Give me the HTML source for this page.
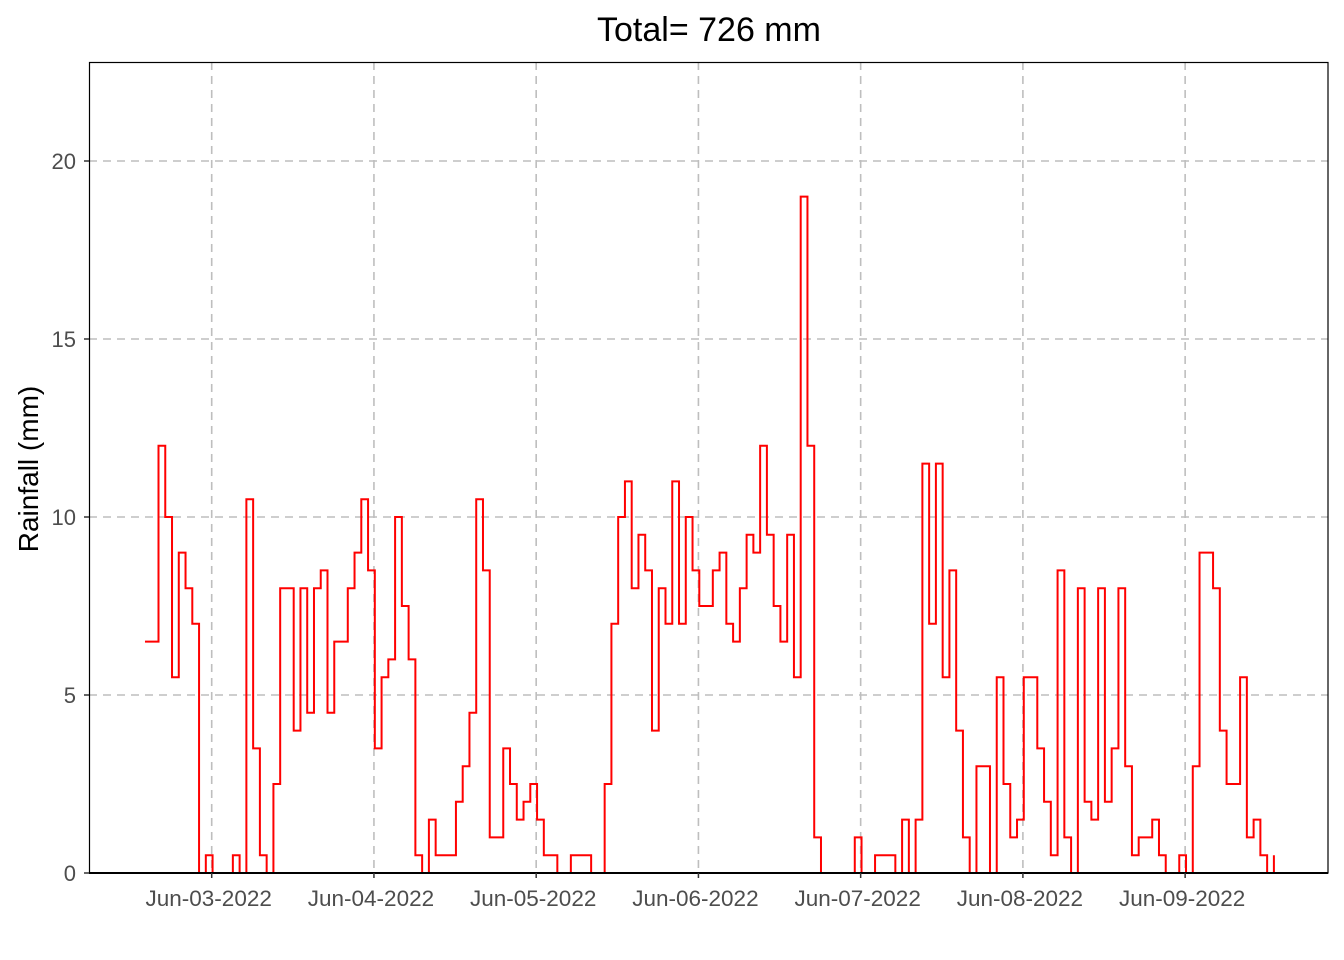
<!DOCTYPE html>
<html><head><meta charset="utf-8"><style>
body{margin:0;background:#fff;}
svg{display:block;font-family:"Liberation Sans",Arial,sans-serif;}
</style></head><body>
<svg id="chart" width="1344" height="960" viewBox="0 0 1344 960">
<rect width="1344" height="960" fill="#fff"/>
<g id="grid"></g>
<g id="series"></g>
<rect x="89.5" y="62.5" width="1238.5" height="810.5" fill="none" stroke="#000" stroke-width="1.2"/>
<line x1="89" y1="873" x2="1328" y2="873" stroke="#000" stroke-width="2"/>
<g id="yaxis"></g>
<g id="xaxis"></g>
<text x="709" y="41" text-anchor="middle" font-size="34" fill="#000">Total= 726 mm</text>
<text transform="translate(38,469) rotate(-90)" text-anchor="middle" font-size="28" fill="#000">Rainfall (mm)</text>
</svg>
<script>
const rainfall = [
6.5,6.5,12,10,5.5,9,8,7,0,0.5,0,0,0,0.5,0,10.5,3.5,0.5,0,2.5,8,8,4,8,4.5,8,8.5,4.5,
6.5,6.5,
8,9,10.5,8.5,3.5,5.5,6,10,7.5,6,0.5,0,1.5,0.5,0.5,0.5,2,3,4.5,10.5,8.5,1,1,3.5,2.5,1.5,2,
2.5,1.5,0.5,0.5,0,0,0.5,0.5,0.5,0,0,2.5,7,10,11,8,9.5,8.5,4,8,7,11,7,10,8.5,7.5,7.5,8.5,
9,7,6.5,8,9.5,9,12,9.5,7.5,6.5,9.5,5.5,19,12,1,0,0,0,0,0,1,0,0,0.5,0.5,0.5,0,1.5,
0,1.5,11.5,7,11.5,5.5,8.5,4,1,0,3,3,0,5.5,2.5,1,1.5,5.5,5.5,3.5,2,0.5,8.5,1,0,8,2,1.5,
8,2,3.5,8,3,0.5,1,1,1.5,0.5,0,0,0.5,0,3,9,9,8,4,2.5,2.5,5.5,1,1.5,0.5,0,0.5
];
const startHour = -9.87; // hours relative to Jun-03 00:00
const xTickLabels = ["Jun-03-2022","Jun-04-2022","Jun-05-2022","Jun-06-2022","Jun-07-2022","Jun-08-2022","Jun-09-2022"];
const xTickDays = [0,1,2,3,4,5,6];
const yTicks = [0,5,10,15,20];

const NS="http://www.w3.org/2000/svg";
const pxPerHour=6.76, x0=211.7;
function xScale(h){return x0+h*pxPerHour;}
function yScale(v){return 873-v*35.6;}
function mk(tag,attrs,parent){const e=document.createElementNS(NS,tag);for(const k in attrs)e.setAttribute(k,attrs[k]);parent.appendChild(e);return e;}

const grid=document.getElementById('grid');
const yaxis=document.getElementById('yaxis');
const xaxis=document.getElementById('xaxis');
yTicks.forEach(v=>{
  const y=yScale(v);
  if(v>0){const g=mk('line',{x1:89,x2:1328,y1:y,y2:y,stroke:'#bebebe','stroke-width':1.6,'stroke-dasharray':'8,6'},grid);
  
  }
  const t=mk('line',{x1:84,x2:89,y1:y,y2:y,stroke:'#333','stroke-width':1.5},yaxis);
  
  
  const l=mk('text',{x:76,y:y+8,'text-anchor':'end','font-size':22,fill:'#4d4d4d'},yaxis);
  l.textContent=v;
  
  
});
xTickDays.forEach((d,i)=>{
  const x=xScale(d*24);
  const g=mk('line',{x1:x,x2:x,y1:62,y2:873,stroke:'#bebebe','stroke-width':1.6,'stroke-dasharray':'8,6'},grid);
  
  
  const t=mk('line',{x1:x,x2:x,y1:873,y2:878,stroke:'#333','stroke-width':1.5},xaxis);
  
  
  const l=mk('text',{x:x-3,y:906,'text-anchor':'middle','font-size':22.5,fill:'#4d4d4d'},xaxis);
  l.textContent=xTickLabels[i];
  
  
});
let d='';
rainfall.forEach((v,i)=>{
  const x=xScale(startHour+i), y=yScale(v);
  if(i===0) d+='M'+x+','+y; else d+=' H'+x+' V'+y;
});
const p=mk('path',{d:d,fill:'none',stroke:'#ff0000','stroke-width':2},document.getElementById('series'));


</script>
</body></html>
